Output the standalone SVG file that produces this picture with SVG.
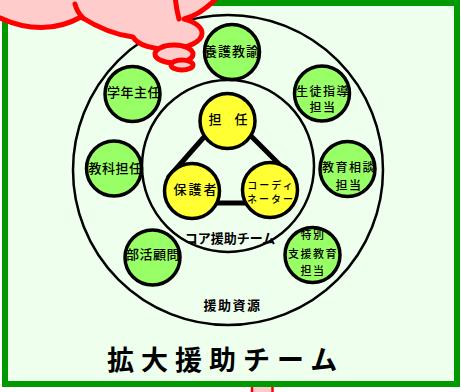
<svg xmlns="http://www.w3.org/2000/svg" width="461" height="392" viewBox="0 0 461 392">
  <style>
    .ring { fill: none; stroke: #000; stroke-width: 2.5; }
    .res { fill: #99FF66; stroke: #000; stroke-width: 3.5; }
    .core { fill: #FFFF33; stroke: #000; stroke-width: 3.5; }
    .link { stroke: #000; stroke-width: 5; stroke-linecap: butt; }
    .lbl { font-family: "Noto Sans CJK JP", "Noto Sans", sans-serif; font-size: 13px; fill: #000; text-anchor: middle; font-weight: 500; }
    .sm { font-size: 12px; }
    .xs { font-size: 11px; }
    .xxs { font-size: 10px; }
    .bold { font-weight: bold; }
    .cloud { fill: #FFCCCC; stroke: #FF0000; stroke-width: 5; stroke-linejoin: round; stroke-linecap: round; }
  </style>

  <rect width="461" height="392" fill="#FFFFFF"/>

  <!-- shape continuing below the frame -->
  <rect x="252" y="378" width="20.5" height="20" fill="#FFCCCC" stroke="#FF0000" stroke-width="2.5"/>

  <!-- frame -->
  <rect x="5" y="3" width="452" height="381" fill="#EEFFEE" stroke="#009900" stroke-width="6"/>

  <!-- rings -->
  <g id="rings">
    <circle class="ring" cx="228" cy="170" r="155"/>
    <circle class="ring" cx="228" cy="166" r="86"/>
  </g>

  <!-- connectors of the core team -->
  <g id="connectors">
    <line class="link" x1="219" y1="120" x2="168" y2="178"/>
    <line class="link" x1="236" y1="121" x2="287" y2="172"/>
    <line class="link" x1="195" y1="203" x2="265" y2="203"/>
  </g>

  <!-- resource nodes -->
  <g id="yogo">
    <circle class="res" cx="232" cy="52" r="27.5"/>
    <text class="lbl" x="232" y="56" letter-spacing="1">養護教諭</text>
  </g>
  <g id="gakunen">
    <circle class="res" cx="132.5" cy="94" r="27.5"/>
    <text class="lbl" x="134" y="97" letter-spacing="0.5">学年主任</text>
  </g>
  <g id="kyoka">
    <circle class="res" cx="114" cy="168.5" r="27.5"/>
    <text class="lbl" x="115.5" y="172.5" letter-spacing="0.5">教科担任</text>
  </g>
  <g id="seito">
    <circle class="res" cx="322" cy="93.5" r="27.5"/>
    <text class="lbl sm" x="323" y="96" letter-spacing="1.5">生徒指導</text>
    <text class="lbl sm" x="323" y="112" letter-spacing="1.5">担当</text>
  </g>
  <g id="kyoiku">
    <circle class="res" cx="347.5" cy="169" r="27.5"/>
    <text class="lbl sm" x="349" y="172" letter-spacing="1.5">教育相談</text>
    <text class="lbl sm" x="349" y="190" letter-spacing="1.5">担当</text>
  </g>
  <g id="bukatsu">
    <circle class="res" cx="152.5" cy="257.5" r="27.5"/>
    <text class="lbl" x="153" y="259" letter-spacing="0.5">部活顧問</text>
  </g>
  <g id="tokubetsu">
    <circle class="res" cx="312.5" cy="255" r="27.5"/>
    <text class="lbl xs" x="313" y="238.5" letter-spacing="1.5">特別</text>
    <text class="lbl xs" x="313" y="257.5" letter-spacing="1.5">支援教育</text>
    <text class="lbl xs" x="313" y="275" letter-spacing="1.5">担当</text>
  </g>

  <!-- core team nodes -->
  <g id="tannin">
    <circle class="core" cx="227.5" cy="121" r="27.5"/>
    <text class="lbl" x="228" y="124">担　任</text>
  </g>
  <g id="hogosha">
    <circle class="core" cx="192" cy="191" r="27.5"/>
    <text class="lbl" x="196" y="194" letter-spacing="2">保護者</text>
  </g>
  <g id="coordinator">
    <circle class="core" cx="270" cy="190" r="27.5"/>
    <text class="lbl xxs" x="271" y="189" letter-spacing="2">コーディ</text>
    <text class="lbl xxs" x="271" y="203" letter-spacing="2">ネーター</text>
  </g>

  <!-- ring titles -->
  <g id="titles">
    <text class="lbl bold" x="230" y="243">コア援助チーム</text>
    <text class="lbl bold" x="232.5" y="310" font-size="16px" letter-spacing="1.5">援助資源</text>
    <text x="107" y="370" font-family="'Noto Sans CJK JP', 'Noto Sans', sans-serif" font-size="27" font-weight="bold" letter-spacing="7" fill="#000">拡大援助チーム</text>
  </g>

  <!-- thought cloud -->
  <g id="cloud">
    <path class="cloud" d="M -10,-10 L -10,13 Q 40,40 81,17 Q 108,34 133,37 A 35 16 0 0 0 202,33 A 35 16 0 0 0 184,19 Q 204,14 224,-10 Z"/>
    <path class="cloud" fill="none" d="M 75,4 Q 77,12 83,18"/>
    <path class="cloud" fill="none" d="M 175,-5 Q 176,8 179,19"/>
    <ellipse class="cloud" cx="174" cy="54" rx="19" ry="9" stroke-width="4.5"/>
    <ellipse class="cloud" cx="182" cy="65" rx="11" ry="5" stroke-width="4.5" fill="#FFD8D8"/>
  </g>
</svg>
